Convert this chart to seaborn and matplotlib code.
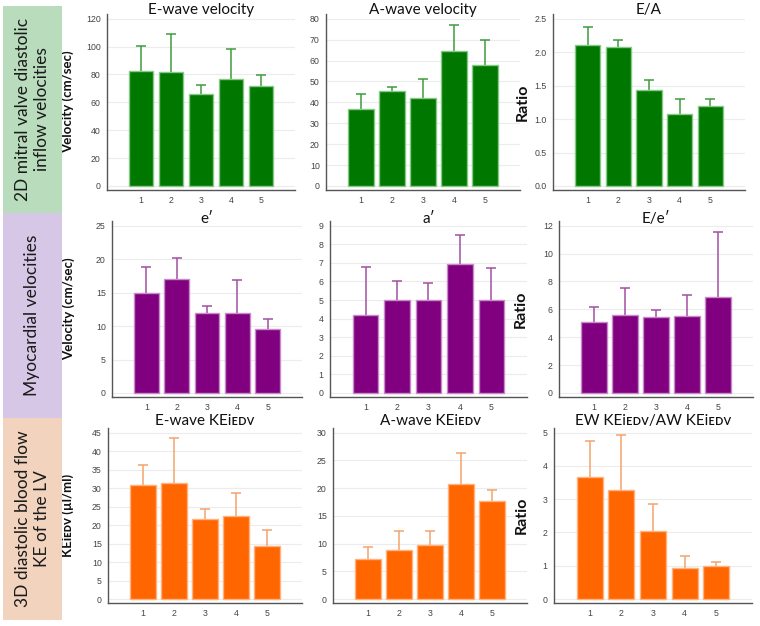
import numpy as np
import pandas as pd
import matplotlib
matplotlib.use("Agg")
import matplotlib.pyplot as plt
from matplotlib.patches import Rectangle
from matplotlib.ticker import MultipleLocator, AutoMinorLocator, FormatStrFormatter
import seaborn as sns

# dados (média e desvio-padrão por grupo 1..5)
grupos = ["1", "2", "3", "4", "5"]

e_wave_mean = [82.3, 82.0, 66.3, 77.0, 71.8]
e_wave_sd = [17.9, 27.3, 6.0, 21.3, 7.9]
a_wave_mean = [36.7, 45.2, 42.1, 64.7, 58.0]
a_wave_sd = [7.3, 2.3, 8.9, 12.4, 11.6]
ea_mean = [2.11, 2.08, 1.43, 1.07, 1.19]
ea_sd = [0.27, 0.10, 0.16, 0.23, 0.11]

e_prime_mean = [15.0, 17.0, 11.9, 11.9, 9.5]
e_prime_sd = [3.9, 3.1, 1.15, 5.0, 1.6]
a_prime_mean = [4.17, 5.0, 5.0, 6.95, 5.0]
a_prime_sd = [2.59, 1.0, 0.9, 1.55, 1.74]
ee_mean = [5.1, 5.6, 5.46, 5.51, 6.87]
ee_sd = [1.08, 1.94, 0.48, 1.55, 4.68]

e_ke_mean = [30.8, 31.4, 21.7, 22.5, 14.4]
e_ke_sd = [5.4, 12.2, 2.6, 6.1, 4.2]
a_ke_mean = [7.2, 8.8, 9.74, 20.8, 17.65]
a_ke_sd = [2.2, 3.5, 2.46, 5.6, 2.0]
ewaw_mean = [3.68, 3.28, 2.05, 0.94, 0.99]
ewaw_sd = [1.07, 1.66, 0.81, 0.35, 0.12]

SC = "i\u1d07\u1d05\u1d20"  # "iEDV" em versaletes

linhas = [
    ("2D mitral valve diastolic\ninflow velocities", "#b9dcbd", 6, 213),
    ("Myocardial velocities", "#d7c7e6", 213, 418),
    ("3D diastolic blood flow\nKE of the LV", "#f2d3be", 418, 620),
]

verde = ("#007800", "#86c986", "#3f9b3f")
roxo = ("#800080", "#c58cc5", "#a250a2")
laranja = ("#ff6600", "#ffb27f", "#f2a36e")

# (titulo, ylabel, tamanho ylabel, media, sd, topo, passo, formato, cores, x0, x1, y0, y1, pad, ylabpx)
paineis = [
    ("E-wave velocity", "Velocity (cm/sec)", 9.5, e_wave_mean, e_wave_sd, 120, 20, "%d", verde, 107, 295, 14, 190, 0, 33),
    ("A-wave velocity", "", 0, a_wave_mean, a_wave_sd, 80, 10, "%d", verde, 326, 520, 14, 190, 0, 0),
    ("E/A", "Ratio", 11.5, ea_mean, ea_sd, 2.5, 0.5, "%.1f", verde, 553, 745, 14, 190, 0, 23),
    ("e\u2032", "Velocity (cm/sec)", 9.5, e_prime_mean, e_prime_sd, 25, 5, "%d", roxo, 112, 302, 221, 397, -1.5, 37),
    ("a\u2032", "", 0, a_prime_mean, a_prime_sd, 9, 1, "%d", roxo, 330, 527, 221, 397, -1.5, 0),
    ("E/e\u2032", "Ratio", 11.5, ee_mean, ee_sd, 12, 2, "%d", roxo, 559, 753, 221, 397, -1.5, 31),
    ("E-wave KE" + SC, "KE" + SC + " (\u00b5l/ml)", 9.5, e_ke_mean, e_ke_sd, 45, 5, "%d", laranja, 108, 302, 428, 603, 2, 34),
    ("A-wave KE" + SC, "", 0, a_ke_mean, a_ke_sd, 30, 5, "%d", laranja, 333, 527, 428, 603, 2, 0),
    ("EW KE" + SC + "/AW KE" + SC, "Ratio", 11.5, ewaw_mean, ewaw_sd, 5, 1, "%d", laranja, 554, 752, 428, 603, 2, 25),
]

sns.set_style("white")
W, H = 760, 626
fig = plt.figure(figsize=(W / 100, H / 100), dpi=100)

TICKFONT = ["Liberation Sans Narrow", "Liberation Sans", "DejaVu Sans"]
TXTFONT = ["Lato", "DejaVu Sans"]

for texto, cor, ya, yb in linhas:
    fig.patches.append(Rectangle((3 / W, 1 - yb / H), 59 / W, (yb - ya) / H,
                                 transform=fig.transFigure, facecolor=cor,
                                 edgecolor="none", zorder=0))
    fig.text(32.5 / W, 1 - (ya + yb) / 2 / H, texto, rotation=90, ha="center",
             va="center", fontsize=12.5, family=TXTFONT, color="#1a1a1a",
             linespacing=1.25, multialignment="center")

for (tit, ylab, ylsz, media, sd, topo, passo, fmt, cores, x0, x1, y0, y1, pad, ylp) in paineis:
    ax = fig.add_axes([x0 / W, 1 - y1 / H, (x1 - x0) / W, (y1 - y0) / H])
    df = pd.DataFrame({"grupo": grupos, "valor": media})
    sns.barplot(data=df, x="grupo", y="valor", ax=ax, color=cores[0],
                saturation=1, width=0.82, edgecolor=cores[1], linewidth=1.0,
                errorbar=None, zorder=2)
    ax.errorbar(np.arange(len(grupos)), media, yerr=sd, fmt="none",
                ecolor=cores[2], elinewidth=1.1, capsize=3.6, capthick=1.1,
                zorder=1)
    ax.set_xlim(-1.13, len(grupos) - 1 + 1.13)
    ax.set_ylim(-0.024 * topo, 1.028 * topo)
    ax.yaxis.set_major_locator(MultipleLocator(passo))
    ax.yaxis.set_minor_locator(AutoMinorLocator(2))
    ax.yaxis.set_major_formatter(FormatStrFormatter(fmt))
    ax.set_axisbelow(True)
    ax.grid(axis="y", color="#ececec", linewidth=0.8)
    ax.grid(axis="x", visible=False)
    for s in ["top", "right"]:
        ax.spines[s].set_visible(False)
    for s in ["left", "bottom"]:
        ax.spines[s].set_color("#555555")
        ax.spines[s].set_linewidth(1.0)
    ax.tick_params(axis="both", which="major", direction="out", length=3,
                   width=0.7, color="#555555", labelsize=6.3,
                   labelcolor="#444444", pad=1.5)
    ax.tick_params(axis="y", which="minor", direction="out", length=1.8,
                   width=0.6, color="#777777")
    for lab in ax.get_xticklabels() + ax.get_yticklabels():
        lab.set_family(TICKFONT)
    ax.set_xlabel("")
    ax.set_ylabel("")
    ax.set_title(tit, fontsize=11, family=TXTFONT, color="#111111", pad=pad, y=1.0)
    if ylab:
        ax.set_ylabel(ylab, fontsize=ylsz, fontweight="bold", family=TXTFONT,
                      color="#111111")
        ax.yaxis.set_label_coords(-ylp / (x1 - x0), 0.5)

fig.savefig("out.png", dpi=100, facecolor="white")
